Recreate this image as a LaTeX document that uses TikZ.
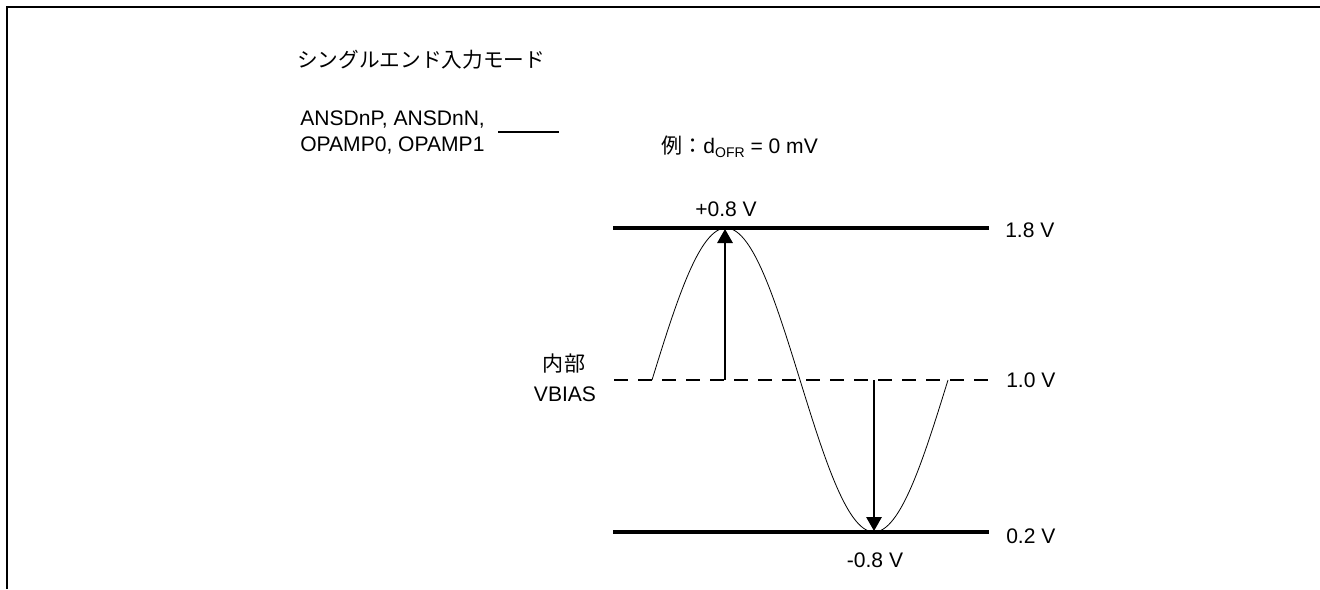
\documentclass[tikz,border=0pt]{standalone}
\usepackage{fontspec}
\setmainfont{Liberation Sans}
\newfontfamily\cjk{Noto Sans CJK JP}
\usetikzlibrary{arrows.meta}
\tikzset{
  txt/.style={inner sep=0pt, font=\fontsize{15.8}{19.5}\selectfont},
  level/.style={line width=2.3pt},
  bias/.style={line width=1.5pt, dash pattern=on 10.5pt off 7.5pt},
  wave/.style={line width=0.6pt},
  vec/.style={line width=1.5pt, -{Triangle[length=10.5pt,width=11.5pt]}},
  frame/.style={line width=1.6pt}
}
\begin{document}
\begin{tikzpicture}[x=0.75pt,y=-0.75pt]
\useasboundingbox (0,0) rectangle (1320,589);
% frame
\draw[frame] (7,589) -- (7,7) -- (1320,7);
% texts
\node[txt, anchor=base west, font=\fontsize{15.5}{19}\selectfont] (title) at (297,67) {\cjk シングルエンド入力モード};
\node[txt, anchor=base west] (pinsA) at (300,125) {ANSDnP, ANSDnN,};
\node[txt, anchor=base west] (pinsB) at (300,151) {OPAMP0, OPAMP1};
\coordinate (leadA) at (498,132);
\coordinate (leadB) at (559,132);
\draw[line width=1.2pt] (leadA) -- (leadB);
\node[txt, anchor=base west] (ex) at (661,153) {{\cjk 例：}d\raisebox{-3pt}{\fontsize{10.5}{10.5}\selectfont OFR} = 0 mV};
% levels
\coordinate (topL) at (613,228); \coordinate (topR) at (989,228);
\coordinate (midL) at (614,380); \coordinate (midR) at (989,380);
\coordinate (botL) at (613,532); \coordinate (botR) at (989,532);
\draw[level] (topL) -- (topR);
\draw[bias] (midL) -- (midR);
\draw[level] (botL) -- (botR);
\node[txt, anchor=base west] (v18) at (1005,237) {1.8 V};
\node[txt, anchor=base west] (v10) at (1006,387) {1.0 V};
\node[txt, anchor=base west] (v02) at (1006,543) {0.2 V};
\node[txt, anchor=base] (naibu) at (564,371) {\cjk 内部};
\node[txt, anchor=base] (vbias) at (565,401) {VBIAS};
% sine
\draw[wave] plot[domain=0:296, samples=120, smooth] ({\x+652}, {380-152*sin(\x/296*360)});
% arrows
\coordinate (upB) at (725,380); \coordinate (upT) at (725,229);
\coordinate (dnB) at (874,380); \coordinate (dnT) at (874,531);
\draw[vec] (upB) -- (upT);
\draw[vec] (dnB) -- (dnT);
\node[txt, anchor=base] (pos) at (726,216) {+0.8 V};
\node[txt, anchor=base] (neg) at (875,567) {-0.8 V};
\end{tikzpicture}
\end{document}
